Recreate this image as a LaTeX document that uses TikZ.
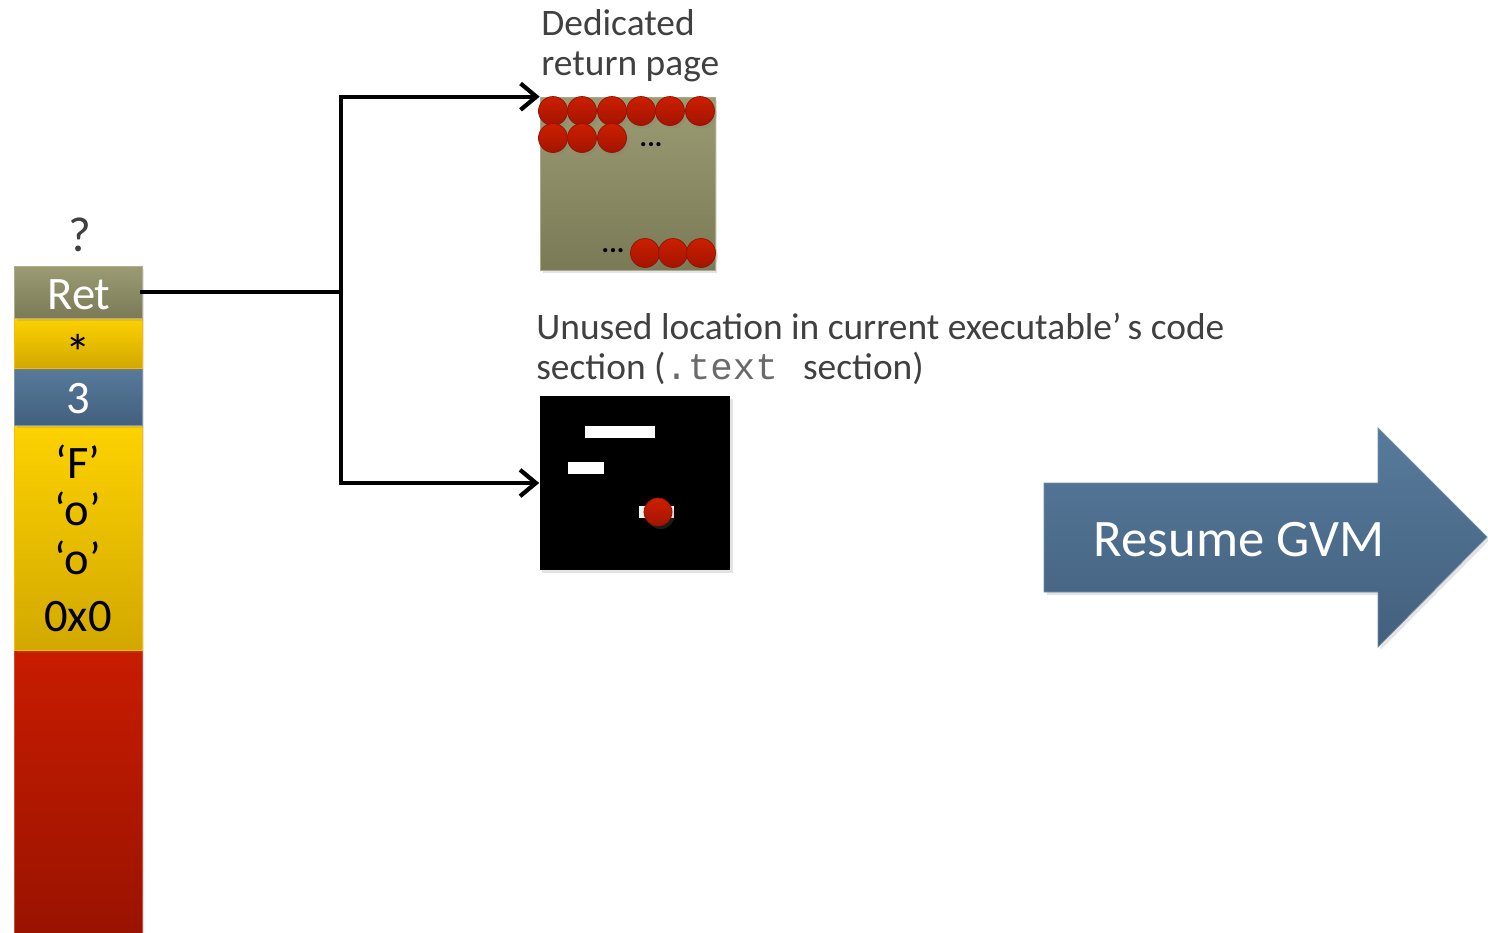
\documentclass[tikz,border=0pt]{standalone}
\usepackage{fontspec}
\setmainfont{Carlito}
\setmonofont{Liberation Mono}
\usetikzlibrary{arrows.meta,shadows}
\definecolor{txt}{HTML}{404040}
\definecolor{oliveT}{HTML}{9B9B73}
\definecolor{oliveB}{HTML}{7A7A57}
\definecolor{yelT}{HTML}{FDD200}
\definecolor{yelB}{HTML}{D2A800}
\definecolor{bluT}{HTML}{577A9C}
\definecolor{bluB}{HTML}{43607D}
\definecolor{redT}{HTML}{C81C00}
\definecolor{redB}{HTML}{9A1300}
\definecolor{ballT}{HTML}{CC1F00}
\definecolor{ballB}{HTML}{A31400}
\definecolor{monogray}{HTML}{6A6A6A}
\tikzset{
  shad/.style={drop shadow={opacity=0.22,shadow xshift=0.05cm,shadow yshift=-0.06cm}},
  cell/.style={rectangle,inner sep=0pt,minimum width=2.56cm,shad},
  conn/.style={line width=2.4pt,draw=black,line cap=rect},
  barb/.style={-{Straight Barb[length=9pt,width=15pt,line width=2.4pt]}},
  redball/.style={circle,inner sep=0pt,minimum size=0.58cm,top color=ballT,bottom color=ballB,draw=ballB!90!black,line width=0.4pt,shad},
  lbl/.style={inner sep=0pt,anchor=base west,text=txt,font=\fontsize{21.3}{25}\selectfont},
  big/.style={inner sep=0pt,font=\fontsize{26.5}{31}\selectfont},
}
\begin{document}
\begin{tikzpicture}[x=0.02cm,y=-0.02cm]
\useasboundingbox (0,0) rectangle (1488,933);

% stack
\node[cell,minimum height=5.66cm,top color=redT,bottom color=redB,draw=redT!80!white,line width=0.4pt] (red) at (78,791.5) {};
\node[cell,minimum height=4.5cm,top color=yelT,bottom color=yelB,draw=yelT!70!orange,line width=0.4pt] (yel) at (78,537.5) {};
\node[cell,minimum height=1.14cm,top color=bluT,bottom color=bluB,draw=bluT!80!white,line width=0.4pt] (three) at (78,396.5) {};
\node[cell,minimum height=1.0cm,top color=yelT,bottom color=yelB,draw=yelT!70!orange,line width=0.4pt] (star) at (78,343) {};
\node[cell,minimum height=1.04cm,top color=oliveT,bottom color=oliveB,draw=oliveT!80!white,line width=0.4pt] (ret) at (78,292) {};

\node[big,text=white] (rett) at (79,295) {Ret};
\node[inner sep=0pt,font=\fontsize{29}{34}\selectfont,text=black] (start) at (78,353) {\raisebox{0pt}[0.7em][-0.33em]{*}};
\node[big,text=white] (threet) at (78,399) {3};
\node[big,text=black] (f) at (78,462) {‘F’};
\node[big,text=black] (o1) at (78,509) {‘o’};
\node[big,text=black] (o2) at (78,558) {‘o’};
\node[big,text=black] (zero) at (78,617) {0x0};
\node[inner sep=0pt,font=\fontsize{28}{33}\selectfont,text=txt] (q) at (80,235) {?};

% dedicated return page
\node[rectangle,inner sep=0pt,minimum width=3.5cm,minimum height=3.46cm,top color=oliveT,bottom color=oliveB,draw=oliveT!85!white,line width=0.4pt,shad] (page) at (627.5,183.5) {};
\foreach \x [count=\i] in {553,582,612,641,670,700} \node[redball] (a\i) at (\x,111) {};
\foreach \x [count=\i] in {553,582,612} \node[redball] (b\i) at (\x,138) {};
\foreach \x [count=\i] in {645,673,701} \node[redball] (c\i) at (\x,253) {};
\node[inner sep=0pt,font=\fontsize{16}{19}\selectfont\bfseries] (dots1) at (651,145) {...};
\node[inner sep=0pt,font=\fontsize{16}{19}\selectfont\bfseries] (dots2) at (613,251) {...};

\node[lbl] (ded1) at (541,35) {Dedicated};
\node[lbl] (ded2) at (541,75) {return page};

% code section
\node[rectangle,inner sep=0pt,minimum width=3.82cm,minimum height=3.48cm,fill=black,shad] (code) at (635,483) {};
\fill[white] (585,426) rectangle (655,438);
\fill[white] (568,462) rectangle (604,474);
\fill[white!90!gray] (639,506) rectangle (674,518);
\node[redball,minimum size=0.56cm,drop shadow={opacity=0}] (cb) at (658,512) {};

\node[lbl] (un1) at (536,339) {Unused location in current executable’\,s code};
\node[lbl] (un2) at (536,379) {section (\textcolor{monogray}{\ttfamily .text}\hspace{0.45em} section)};

% connectors
\coordinate (j) at (341,292);
\draw[conn] (ret.east) -- (j);
\draw[conn] (341,97) -- (341,483);
\draw[conn,barb] (j) |- (page.north west);
\draw[conn,barb] (j) |- (code.west);

% resume arrow
\path[top color=bluT,bottom color=bluB,draw=bluT!85!white,line width=0.4pt,shad]
  (1044,483) -- (1378,483) -- (1378,428) -- (1487,537) -- (1378,647) -- (1378,592) -- (1044,592) -- cycle;
\node[inner sep=0pt,text=white,font=\fontsize{30}{36}\selectfont] (resume) at (1239,540) {Resume GVM};
\end{tikzpicture}
\end{document}
